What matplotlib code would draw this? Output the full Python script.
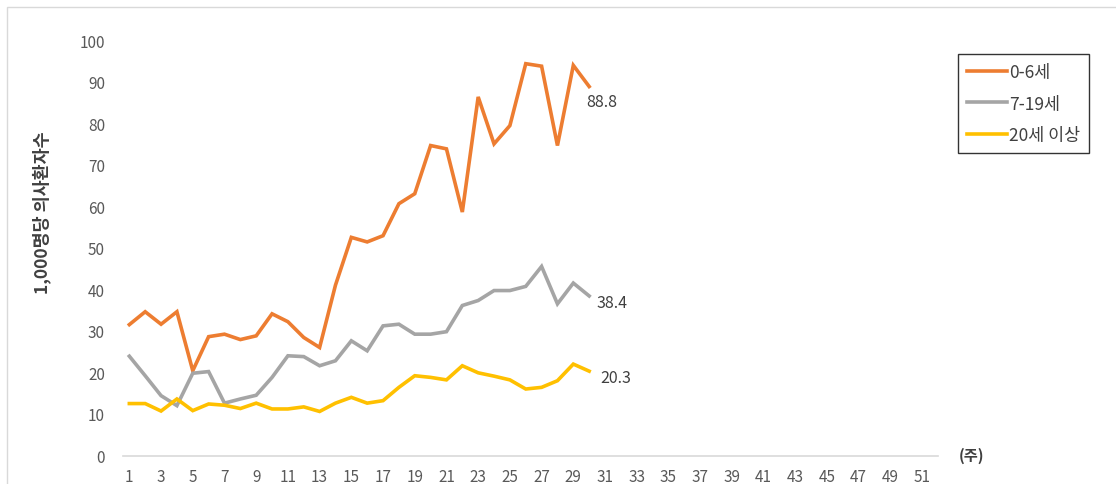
import matplotlib
matplotlib.use("Agg")
import matplotlib.pyplot as plt
from matplotlib.patches import Rectangle

plt.rcParams["font.family"] = ["Noto Sans CJK KR", "DejaVu Sans"]

weeks = list(range(1, 31))
age_0_6 = [31.5, 34.6, 31.6, 34.6, 20.4, 28.6, 29.2, 27.9, 28.8, 34.1,
           32.2, 28.4, 26.0, 41.0, 52.5, 51.4, 52.9, 60.6, 63.0, 74.6,
           73.8, 58.6, 86.3, 75.0, 79.4, 94.3, 93.7, 74.6, 93.9, 88.8]
age_7_19 = [23.9, 19.2, 14.4, 12.0, 19.8, 20.2, 12.6, 13.6, 14.5, 18.8,
            24.0, 23.8, 21.6, 22.8, 27.6, 25.2, 31.2, 31.6, 29.2, 29.2,
            29.8, 36.1, 37.3, 39.7, 39.7, 40.7, 45.5, 36.5, 41.5, 38.4]
age_20_plus = [12.5, 12.5, 10.7, 13.6, 10.8, 12.4, 12.1, 11.3, 12.6, 11.2,
               11.2, 11.7, 10.6, 12.6, 14.0, 12.6, 13.2, 16.4, 19.2, 18.8,
               18.2, 21.6, 19.9, 19.1, 18.2, 16.0, 16.4, 18.0, 22.0, 20.3]
series_labels = ["0-6세", "7-19세", "20세 이상"]
x_ticks = list(range(1, 52, 2))
y_ticks = list(range(0, 101, 10))

colors = ["#ED7D31", "#A5A5A5", "#FFC000"]
# end-label offsets in points
label_offsets = [(-2, -11), (5, -4.8), (8, -4.5)]

fig = plt.figure(figsize=(11.16, 4.85), dpi=100)
fig.patches.append(Rectangle((7 / 1116, -0.1), 1.2, (485 - 8) / 485 + 0.1,
                             transform=fig.transFigure, fill=False,
                             edgecolor="#d9d9d9", linewidth=1))
ax = fig.add_axes([123 / 1116, 1 - 456.5 / 485, (938 - 123) / 1116, (456.5 - 41) / 485])

for values, label, color, off in zip([age_0_6, age_7_19, age_20_plus],
                                     series_labels, colors, label_offsets):
    ax.plot(weeks, values, color=color, linewidth=2.6, label=label,
            solid_joinstyle="miter")
    ax.annotate(f"{values[-1]:.1f}", (weeks[-1], values[-1]),
                xytext=off, textcoords="offset points", ha="left", va="center",
                fontsize=11.5, color="#404040")

ax.set_xlim(0.6, 52.0)
ax.set_ylim(0, 100)
ax.set_xticks(x_ticks)
ax.set_yticks(y_ticks)
ax.tick_params(axis="both", length=0, labelsize=11, labelcolor="#595959")
ax.tick_params(axis="x", pad=9)
ax.tick_params(axis="y", pad=13)
for side in ["top", "right", "left"]:
    ax.spines[side].set_visible(False)
ax.spines["bottom"].set_color("#d9d9d9")
ax.spines["bottom"].set_linewidth(1.2)

fig.text(971 / 1116, 1 - 456 / 485, "(주)", ha="center", va="center",
         fontsize=11, fontweight="bold", color="#404040")
fig.text(42 / 1116, 1 - 213 / 485, "1,000명당 의사환자수", rotation=90,
         ha="center", va="center", fontsize=12.5, fontweight="bold",
         color="#404040")

leg = ax.legend(loc="upper left", bbox_to_anchor=(958 / 1116, 1 - 55 / 485),
                bbox_transform=fig.transFigure, frameon=True, fancybox=False,
                fontsize=12.5, handlelength=2.3, handletextpad=0.15,
                labelspacing=0.8, borderpad=0.5, borderaxespad=0)
leg.get_frame().set_edgecolor("black")
leg.get_frame().set_linewidth(1)
for t in leg.get_texts():
    t.set_color("#404040")

fig.savefig("out.png", dpi=100)
